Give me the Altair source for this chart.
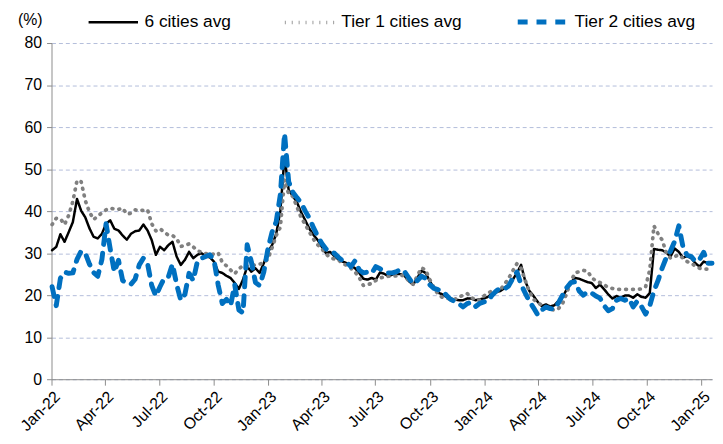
import altair as alt
import pandas as pd

# weekly observations, 2022-01-02 .. 2025-01-19
dates = pd.date_range("2022-01-02", periods=160, freq="7D").strftime("%Y-%m-%dT00:00:00").tolist()

series_names = ["6 cities avg", "Tier 1 cities avg", "Tier 2 cities avg"]

six_cities = [
    30.7, 31.5, 34.5, 32.7, 35.0, 37.4, 42.9, 40.1, 38.5, 35.9,
    33.9, 33.5, 34.6, 37.0, 37.8, 35.8, 35.4, 34.2, 33.2, 34.6,
    35.2, 35.4, 36.8, 35.4, 33.1, 29.6, 31.5, 30.7, 31.9, 32.7,
    29.2, 27.2, 28.4, 30.3, 28.8, 29.6, 30.0, 29.3, 29.0, 28.0,
    25.6, 25.3, 24.6, 24.1, 22.9, 21.5, 23.7, 26.8, 25.6, 26.4,
    25.3, 27.6, 30.3, 31.9, 34.6, 40.1, 53.0, 45.0, 43.6, 42.1,
    39.7, 37.8, 35.8, 34.3, 33.1, 31.5, 30.0, 30.3, 29.3, 28.5,
    28.0, 27.6, 27.0, 26.4, 25.3, 23.9, 23.7, 24.1, 23.7, 25.4,
    25.1, 24.5, 24.9, 25.1, 25.0, 24.5, 23.3, 22.5, 24.1, 25.8,
    25.3, 23.3, 21.7, 20.6, 20.2, 19.6, 19.2, 19.0, 18.8, 18.8,
    19.2, 19.2, 18.8, 19.0, 19.2, 19.6, 20.4, 20.7, 21.0, 21.7,
    22.5, 23.7, 25.3, 27.2, 23.3, 21.0, 19.8, 18.4, 17.4, 17.8,
    17.3, 17.6, 18.6, 19.6, 21.4, 23.1, 24.1, 23.9, 23.5, 23.1,
    22.9, 21.7, 22.5, 21.4, 20.2, 19.2, 19.8, 19.4, 19.9, 19.9,
    19.4, 20.2, 19.6, 19.4, 20.5, 31.0, 30.8, 30.7, 30.1, 29.2,
    31.1, 30.3, 28.9, 29.3, 28.8, 27.6, 26.8, 28.0, 27.6, 27.5,
]

tier1 = [
    36.8, 38.3, 38.2, 36.8, 39.0, 42.3, 47.3, 47.0, 42.5, 39.8,
    38.0, 38.8, 39.6, 40.3, 40.7, 40.5, 40.4, 40.7, 39.3, 39.5,
    40.3, 40.1, 40.2, 40.3, 37.0, 35.3, 35.8, 35.0, 34.3, 34.2,
    33.5, 31.6, 31.8, 32.2, 31.5, 30.6, 30.2, 29.9, 29.6, 29.8,
    30.1, 27.8, 27.0, 26.0, 25.1, 26.3, 27.0, 26.9, 27.0, 27.2,
    27.4, 27.7, 28.6, 31.3, 34.2, 36.2, 47.5, 44.0, 43.5, 41.0,
    38.5, 36.8, 35.0, 33.3, 32.0, 31.0, 29.8, 28.9, 28.6, 28.4,
    27.5, 27.1, 26.4, 25.5, 24.2, 22.3, 22.5, 22.8, 23.5, 24.1,
    24.3, 24.5, 24.5, 24.6, 24.8, 24.5, 23.3, 22.6, 24.6, 26.5,
    26.0, 23.7, 21.8, 20.2, 19.5, 19.3, 19.1, 19.0, 19.5, 20.0,
    20.4, 19.5, 18.8, 18.8, 19.8, 20.5, 21.0, 20.8, 21.3, 22.6,
    24.0, 25.8, 27.5, 26.4, 23.5, 20.8, 19.0, 18.2, 17.6, 17.1,
    16.8, 16.4, 16.8, 18.0, 20.5, 23.3, 25.3, 25.6, 25.9, 25.7,
    24.2, 23.4, 23.0, 22.5, 21.8, 21.6, 21.4, 21.4, 21.4, 21.4,
    21.4, 21.4, 21.5, 22.0, 26.0, 36.5, 34.6, 33.1, 30.0, 28.8,
    29.2, 29.6, 28.8, 28.0, 27.5, 27.0, 26.4, 26.2, 26.2, 26.3,
]

tier2 = [
    22.0, 17.5, 24.0, 25.5, 25.2, 25.3, 28.5, 30.5, 30.0, 27.4,
    25.4, 24.5, 28.5, 37.0, 31.0, 25.5, 28.3, 23.5, 22.8, 22.6,
    23.8, 27.2, 28.8, 27.5, 22.3, 19.8, 22.0, 24.0, 24.3, 27.4,
    22.6, 18.8, 20.2, 25.2, 23.5, 28.0, 28.8, 29.2, 29.6, 28.4,
    22.5, 18.0, 19.0, 17.5, 22.5, 16.5, 15.8, 32.0, 28.0, 23.0,
    22.3, 25.5, 31.0, 35.0, 37.5, 44.0, 58.5, 47.0, 44.5, 43.2,
    42.0, 40.0, 38.3, 36.0, 34.0, 32.3, 31.0, 30.3, 30.0, 29.0,
    28.2, 27.8, 26.8, 28.2, 26.0, 25.3, 25.5, 25.2, 26.8, 26.3,
    25.6, 25.3, 25.3, 25.6, 26.2, 25.5, 24.0, 22.7, 23.5, 24.5,
    24.0, 22.5, 21.6, 21.3, 21.0, 20.0, 19.0, 18.5, 18.0, 17.2,
    18.0, 18.3, 17.3, 18.0, 18.4, 18.6, 20.0, 21.0, 21.7, 21.5,
    22.2, 24.0, 25.5, 22.5, 20.5, 18.5, 17.0, 15.3, 16.5, 17.2,
    16.8, 16.7, 18.2, 20.0, 21.8, 23.0, 23.2, 21.0, 20.0, 20.8,
    20.5, 19.8, 19.3, 17.5, 16.3, 16.8, 18.8, 19.2, 18.8, 19.2,
    17.2, 18.6, 17.3, 15.5, 17.5, 21.0, 23.5, 26.5, 29.0, 30.5,
    32.8, 36.5, 31.5, 29.5, 29.2, 28.0, 28.5, 30.2, 27.6, 27.6,
]

y_ticks = [0, 10, 20, 30, 40, 50, 60, 70, 80]
x_tick_dates = [(y, m) for y in (2022, 2023, 2024) for m in (1, 4, 7, 10)] + [(2025, 1)]

rows = []
for name, vals in zip(series_names, [six_cities, tier1, tier2]):
    for d, v in zip(dates, vals):
        rows.append({"date": d, "value": v, "series": name})
df = pd.DataFrame(rows)

FONT = "Liberation Sans"

x_vals = [alt.DateTime(year=y, month=m, date=1) for (y, m) in x_tick_dates]


def make_legend():
    return alt.Legend(
        orient="none",
        legendX=36,
        legendY=-49,
        direction="horizontal",
        title=None,
        symbolType="stroke",
        symbolSize=2500,
        labelFontSize=17.5,
        labelFont=FONT,
        labelColor="#000000",
        labelOffset=5,
        columnPadding=46,
        labelLimit=300,
    )


chart = alt.Chart(df).mark_line(strokeCap="round", strokeJoin="round").encode(
    x=alt.X(
        "date:T",
        title=None,
        scale=alt.Scale(
            domain=[alt.DateTime(year=2022, month=1, date=1), alt.DateTime(year=2025, month=1, date=19)],
            nice=False,
        ),
        axis=alt.Axis(
            values=x_vals,
            format="%b-%y",
            labelAngle=-45,
            labelAlign="right",
            labelBaseline="top",
            labelFontSize=16,
            labelFont=FONT,
            labelColor="#000000",
            grid=False,
            domainColor="#8c8c8c",
            tickColor="#8c8c8c",
            tickSize=6,
            labelPadding=3,
        ),
    ),
    y=alt.Y(
        "value:Q",
        scale=alt.Scale(domain=[0, 80], nice=False),
        axis=alt.Axis(
            values=y_ticks,
            title="(%)",
            titleAngle=0,
            titleX=-22,
            titleY=-24,
            titleAlign="center",
            titleBaseline="middle",
            titleFont=FONT,
            titleFontSize=16,
            titleFontWeight="normal",
            titleColor="#000000",
            labelFontSize=16,
            labelFont=FONT,
            labelColor="#000000",
            labelPadding=5,
            grid=True,
            gridDash=[4, 3],
            gridColor="#b3bddb",
            gridWidth=1,
            domainColor="#8c8c8c",
            tickColor="#8c8c8c",
            tickSize=5,
        ),
    ),
    color=alt.Color(
        "series:N",
        scale=alt.Scale(domain=series_names, range=["#000000", "#808080", "#0070C0"]),
        legend=make_legend(),
    ),
    strokeDash=alt.StrokeDash(
        "series:N",
        scale=alt.Scale(domain=series_names, range=[[1, 0], [0.8, 6.2], [10, 9]]),
        legend=make_legend(),
    ),
    strokeWidth=alt.StrokeWidth(
        "series:N",
        scale=alt.Scale(domain=series_names, range=[2.5, 5, 5.5]),
        legend=make_legend(),
    ),
).properties(
    width=668,
    height=340,
    autosize=alt.AutoSizeParams(type="none"),
    padding={"left": 44, "top": 33, "right": 3, "bottom": 55},
).configure_view(stroke=None)

chart.save("out.html", embed_options={"renderer": "svg", "actions": False})
